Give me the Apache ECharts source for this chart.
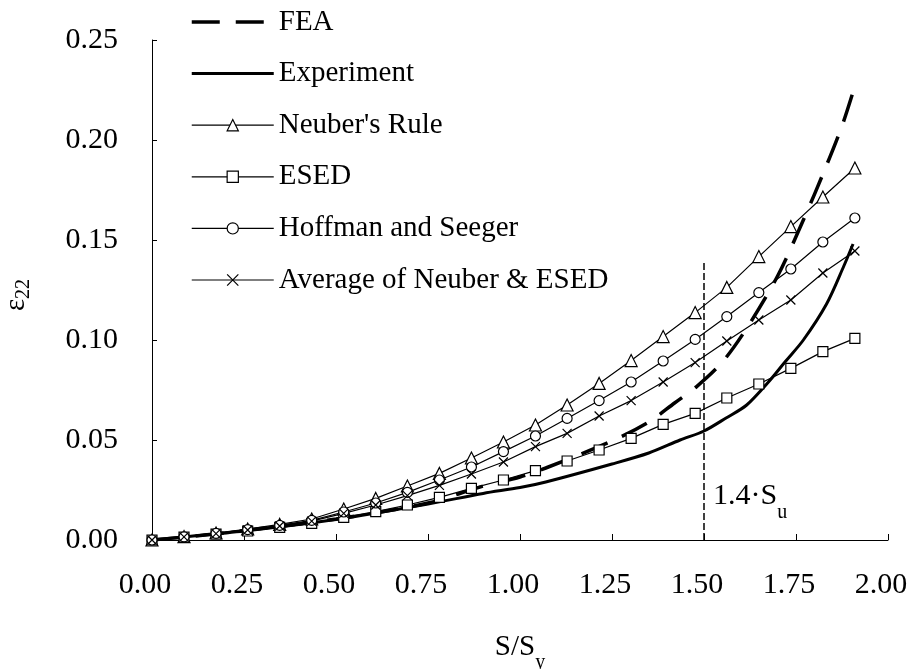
<!DOCTYPE html>
<html>
<head>
<meta charset="utf-8">
<script src="https://cdn.jsdelivr.net/npm/echarts@6/dist/echarts.min.js"></script>
<style>
  html, body { margin: 0; padding: 0; background: #fff; }
  #chart { width: 911px; height: 669px; }
</style>
</head>
<body>
<div id="chart"></div>
<script>
// Load ratio S/Sy at which the approximation methods were evaluated
const loadRatio = [0, 0.087, 0.174, 0.26, 0.347, 0.434, 0.521, 0.608, 0.694, 0.781, 0.868,
  0.955, 1.042, 1.128, 1.215, 1.302, 1.389, 1.476, 1.562, 1.649, 1.736, 1.823, 1.91];

// Notch strain ε22 predicted by each method
const neuber  = [0, 0.0017, 0.0035, 0.0055, 0.0078, 0.0105, 0.0155, 0.0208, 0.027, 0.0333, 0.041,
  0.049, 0.0575, 0.0675, 0.0783, 0.0897, 0.1017, 0.1137, 0.1263, 0.1417, 0.1567, 0.1715, 0.186];
const esed    = [0, 0.0015, 0.003, 0.0045, 0.0063, 0.0083, 0.0113, 0.0142, 0.0175, 0.0213, 0.0258,
  0.030, 0.0347, 0.0395, 0.045, 0.0508, 0.0578, 0.0633, 0.071, 0.078, 0.0858, 0.0942, 0.1008];
const hoffman = [0, 0.0016, 0.0033, 0.0052, 0.0073, 0.0098, 0.014, 0.0185, 0.0238, 0.030, 0.0365,
  0.0442, 0.052, 0.0608, 0.0697, 0.079, 0.0895, 0.1003, 0.1117, 0.1237, 0.1355, 0.149, 0.161];
const average = [0, 0.0016, 0.0032, 0.005, 0.007, 0.0094, 0.0133, 0.0175, 0.0222, 0.0273, 0.033,
  0.039, 0.0467, 0.0533, 0.062, 0.0697, 0.079, 0.0887, 0.0995, 0.110, 0.120, 0.1335, 0.1445];

// Finite element result
const feaLoad   = [0, 0.1, 0.25, 0.5, 0.75, 0.9, 1.0, 1.07, 1.25, 1.35, 1.42, 1.48, 1.55, 1.62, 1.70, 1.77, 1.83, 1.875, 1.905];
const feaStrain = [0, 0.0017, 0.0047, 0.0105, 0.0185, 0.027, 0.0315, 0.036, 0.0495, 0.059, 0.0685, 0.0767, 0.089, 0.107, 0.132, 0.160, 0.186, 0.207, 0.224];

// Measured strain
const expLoad   = [0, 0.1, 0.25, 0.5, 0.75, 0.9, 1.0, 1.07, 1.25, 1.35, 1.435, 1.5, 1.56, 1.616, 1.68, 1.72, 1.77, 1.833, 1.88, 1.905];
const expStrain = [0, 0.0017, 0.0045, 0.0103, 0.018, 0.0233, 0.0262, 0.029, 0.038, 0.0435, 0.050, 0.0545, 0.061, 0.0675, 0.080, 0.089, 0.100, 0.118, 0.137, 0.148];

// Load level 1.4·Su expressed as S/Sy
const limitLoad = 1.5;
const limitStrain = [0, 0.14];

const FONT = 'Liberation Serif';
const pairs = (xs, ys) => xs.map((x, i) => [x, ys[i]]);

const markerStyle = { color: '#fff', borderColor: '#000', borderWidth: 1.2 };
const thinLine = { color: '#000', width: 1.2 };

const chart = echarts.init(document.getElementById('chart'), null, { renderer: 'canvas' });

const option = {
  animation: false,
  backgroundColor: '#fff',
  textStyle: { fontFamily: FONT, color: '#000' },
  grid: { left: 152, right: 23, top: 40, bottom: 129, containLabel: false, outerBoundsMode: 'none' },
  legend: {
    orient: 'vertical',
    left: 190,
    top: 7,
    padding: 0,
    itemWidth: 82,
    itemHeight: 14,
    itemGap: 21.6,
    selectedMode: false,
    textStyle: { fontFamily: FONT, fontSize: 29, lineHeight: 30, color: '#000' },
    lineStyle: { width: 'inherit' },
    itemStyle: { borderWidth: 'inherit' },
    data: [
      { name: 'FEA', itemStyle: { opacity: 0 } },
      { name: 'Experiment', itemStyle: { opacity: 0 } },
      { name: "Neuber's Rule" },
      { name: 'ESED' },
      { name: 'Hoffman and Seeger' },
      { name: 'Average of Neuber & ESED' }
    ]
  },
  xAxis: {
    type: 'value',
    min: 0, max: 2, interval: 0.25,
    name: '{m|S/S}{s|y}',
    nameLocation: 'middle',
    nameGap: 93,
    nameTextStyle: {
      rich: {
        m: { fontFamily: FONT, fontSize: 29, color: '#000', lineHeight: 22, verticalAlign: 'top' },
        s: { fontFamily: FONT, fontSize: 20, color: '#000', lineHeight: 40, verticalAlign: 'bottom' }
      }
    },
    axisLine: { lineStyle: { color: '#000', width: 1 } },
    axisTick: { inside: true, length: 6, lineStyle: { color: '#000' } },
    axisLabel: { fontFamily: FONT, fontSize: 30, color: '#000', margin: 30,
      padding: [0, 14, 0, 0],
      formatter: v => v.toFixed(2) },
    splitLine: { show: false }
  },
  yAxis: {
    type: 'value',
    min: 0, max: 0.25, interval: 0.05,
    name: '{m|ε}{s|22}',
    nameLocation: 'middle',
    nameRotate: 90,
    nameGap: 118,
    nameTextStyle: {
      padding: [0, 10, 0, 0],
      rich: {
        m: { fontFamily: FONT, fontSize: 29, color: '#000', lineHeight: 26, verticalAlign: 'top' },
        s: { fontFamily: FONT, fontSize: 20, color: '#000', lineHeight: 32, verticalAlign: 'bottom' }
      }
    },
    axisLine: { show: true, lineStyle: { color: '#000', width: 1 } },
    axisTick: { show: true, inside: true, length: 5, lineStyle: { color: '#000' } },
    axisLabel: { fontFamily: FONT, fontSize: 30, color: '#000', margin: 34,
      formatter: v => v.toFixed(2) },
    splitLine: { show: false }
  },
  series: [
    {
      name: 'FEA', type: 'line', data: pairs(feaLoad, feaStrain),
      symbol: 'none', smooth: 0.3, z: 3,
      lineStyle: { color: '#000', width: 3.5, type: [28, 16] },
      itemStyle: { color: '#000' }
    },
    {
      name: 'Experiment', type: 'line', data: pairs(expLoad, expStrain),
      symbol: 'none', smooth: 0.3, z: 3,
      lineStyle: { color: '#000', width: 3 },
      itemStyle: { color: '#000' }
    },
    {
      name: "Neuber's Rule", type: 'line', data: pairs(loadRatio, neuber),
      symbol: 'triangle', symbolSize: 12,
      lineStyle: thinLine, itemStyle: markerStyle
    },
    {
      name: 'ESED', type: 'line', data: pairs(loadRatio, esed),
      symbol: 'rect', symbolSize: 10,
      lineStyle: thinLine, itemStyle: markerStyle
    },
    {
      name: 'Hoffman and Seeger', type: 'line', data: pairs(loadRatio, hoffman),
      symbol: 'circle', symbolSize: 10,
      lineStyle: thinLine, itemStyle: markerStyle
    },
    {
      name: 'Average of Neuber & ESED', type: 'line', data: pairs(loadRatio, average),
      symbol: 'path://M0,0L10,10M10,0L0,10', symbolSize: 9,
      lineStyle: thinLine,
      itemStyle: { color: 'none', borderColor: '#000', borderWidth: 1.2 }
    },
    {
      name: 'limit', type: 'line',
      data: limitStrain.map(v => [limitLoad, v]),
      symbol: 'none', z: 1,
      lineStyle: { color: '#000', width: 1.5, type: [7, 3] }
    }
  ]
};

chart.setOption(option);

// Annotation next to the 1.4·Su line, anchored through the axis scales
const anchor = chart.convertToPixel({ xAxisIndex: 0, yAxisIndex: 0 }, [limitLoad, 0.019]);
chart.setOption({
  graphic: [{
    type: 'text',
    x: anchor[0] + 9,
    y: anchor[1],
    style: {
      text: '{m|1.4·S}{s|u}',
      align: 'left',
      verticalAlign: 'middle',
      rich: {
        m: { fontFamily: FONT, fontSize: 30, fill: '#000', lineHeight: 22, verticalAlign: 'top' },
        s: { fontFamily: FONT, fontSize: 20, fill: '#000', lineHeight: 42, verticalAlign: 'bottom' }
      }
    }
  }]
});
</script>
</body>
</html>
